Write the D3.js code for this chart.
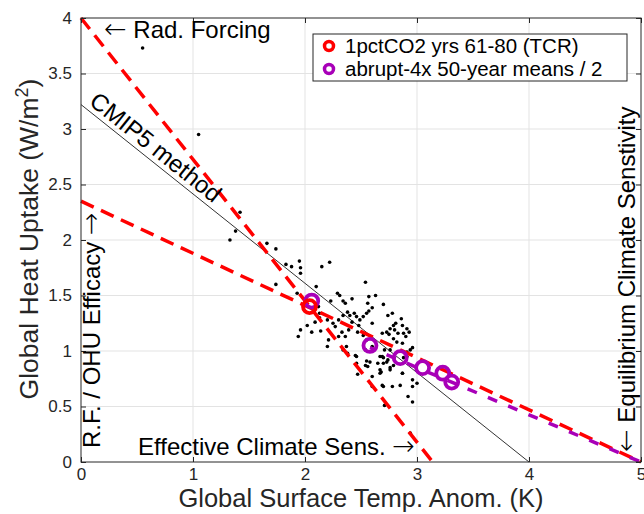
<!DOCTYPE html>
<html>
<head>
<meta charset="utf-8">
<script src="https://cdn.jsdelivr.net/npm/d3@7"></script>
<style>
  html, body { margin: 0; padding: 0; background: #fff; }
  svg { display: block; font-family: "Liberation Sans", Arial, Helvetica, sans-serif; }
  .arrow { font-family: "DejaVu Sans", sans-serif; font-weight: 200; font-size: 27px; }
</style>
</head>
<body>
<svg id="chart" width="644" height="514"></svg>
<script>
// Axis ticks
const xTicks = [0, 1, 2, 3, 4, 5];
const yTicks = [0, 0.5, 1, 1.5, 2, 2.5, 3, 3.5, 4];

// Individual model points: [surface temp anomaly (K), heat uptake (W/m2)]
const modelPoints = [
  [0.55,3.73],[1.05,2.95],
  [1.42,2.25],[1.38,2.08],[1.33,2.00],[1.66,1.97],[1.74,1.92],
  [1.83,1.78],[1.88,1.76],[1.95,1.81],[1.96,1.75],[1.96,1.70],[1.74,1.60],[1.93,1.52],
  [2.15,1.76],[2.22,1.80],[2.10,1.58],[2.54,1.62],
  [2.29,1.52],[2.31,1.50],[2.34,1.45],[2.36,1.43],[2.42,1.47],[2.23,1.45],[2.57,1.49],[2.63,1.50],[2.56,1.43],[2.70,1.42],
  [2.12,1.40],[2.13,1.34],[2.13,1.30],[2.07,1.35],[2.02,1.23],[1.96,1.19],[1.94,1.13],[2.06,1.17],[2.14,1.18],[2.09,1.26],
  [2.20,1.28],[2.25,1.25],[2.27,1.22],[2.30,1.28],[2.34,1.32],[2.38,1.35],[2.40,1.32],[2.44,1.34],[2.46,1.31],[2.49,1.28],
  [2.52,1.31],[2.55,1.34],[2.57,1.36],[2.60,1.39],[2.48,1.23],[2.42,1.26],
  [2.33,1.17],[2.30,1.13],[2.36,1.13],[2.39,1.19],[2.20,1.04],[2.45,0.96],[2.47,1.17],[2.52,1.14],[2.55,1.10],[2.60,1.04],
  [2.21,1.10],[2.37,1.04],[2.34,1.01],[2.38,0.98],[2.46,0.95],[2.47,0.79],[2.54,0.87],[2.58,0.90],[2.54,1.01],[2.60,0.77],
  [2.69,0.69],[2.71,0.51],[2.68,0.81],[2.78,0.68],[2.85,0.69],[2.96,0.68],[2.92,0.59],[2.96,0.54],[3.00,0.71],[2.87,0.80],
  [2.76,0.85],[2.70,0.94],[2.67,0.95],[2.73,0.90],[2.76,1.01],
  [2.60,1.25],[2.74,1.32],[2.78,1.34],[2.86,1.29],[2.91,1.20],[2.93,1.17],[2.87,1.23],[2.81,1.25],[2.79,1.23],[2.76,1.20],
  [2.73,1.17],[2.69,1.16],[2.75,1.15],[2.80,1.19],[2.83,1.16],[2.88,1.16],[2.90,1.13],[2.79,1.11],[2.82,1.08],[2.87,1.07],
  [2.94,1.01],[2.96,1.03],[2.91,0.99],[2.71,1.01],[2.69,0.95],[2.74,0.92],[2.70,0.89],[2.65,0.89],[2.88,0.94],[2.91,0.95],
  [2.76,0.83],[2.67,0.83],[2.87,0.80],[2.96,0.74],[2.70,0.68],
  [2.46,0.89],[2.55,0.91],[2.56,0.86],[2.60,0.68],[2.67,0.80],[2.94,0.26],[2.79,0.87]
];

// 1pctCO2 years 61-80 (TCR) multi-model mean
const tcrPoints = [[2.04, 1.40]];

// abrupt-4x 50-year means, halved
const abruptPoints = [[2.06,1.45],[2.58,1.05],[2.85,0.94],[3.05,0.85],[3.23,0.80],[3.31,0.72]];

// Reference lines: [[x0,y0],[x1,y1]]
const radForcingLine = [[0, 4.0], [3.14, 0]];
const efficacyLine   = [[0, 2.35], [5, 0]];
const abruptFitLine  = [[2.58, 1.03], [5, 0]];
const cmip5Line      = [[0, 3.22], [4, 0]];

const legendLabels = ["1pctCO2 yrs 61-80 (TCR)", "abrupt-4x 50-year means / 2"];

const RED = "#ff0000", PURPLE = "#a800b8", AXIS = "#262626";

const svg = d3.select("#chart");
const plotL = 81, plotR = 641, plotT = 18, plotB = 462;

const x = d3.scaleLinear().domain([0, 5]).range([plotL, plotR]);
const y = d3.scaleLinear().domain([0, 4]).range([plotB, plotT]);

// grid
const grid = svg.append("g");
grid.selectAll(".gx").data(xTicks.slice(1, -1)).join("line")
  .attr("x1", d => x(d)).attr("x2", d => x(d)).attr("y1", plotT).attr("y2", plotB)
  .attr("stroke", "#e3e3e3").attr("stroke-width", 1);
grid.selectAll(".gy").data(yTicks.slice(1, -1)).join("line")
  .attr("y1", d => y(d)).attr("y2", d => y(d)).attr("x1", plotL).attr("x2", plotR)
  .attr("stroke", "#e3e3e3").attr("stroke-width", 1);

const line = d3.line().x(d => x(d[0])).y(d => y(d[1]));

// CMIP5 regression line
svg.append("path").datum(cmip5Line).attr("d", line)
  .attr("fill", "none").attr("stroke", "#333").attr("stroke-width", 1);

// model dots
svg.append("g").selectAll("circle").data(modelPoints).join("circle")
  .attr("cx", d => x(d[0])).attr("cy", d => y(d[1])).attr("r", 1.8).attr("fill", "#000");

// dashed red lines
[radForcingLine, efficacyLine].forEach(l => {
  svg.append("path").datum(l).attr("d", line)
    .attr("fill", "none").attr("stroke", RED).attr("stroke-width", 3.5)
    .attr("stroke-dasharray", "14,8");
});
svg.append("path").datum(abruptFitLine).attr("d", line)
  .attr("fill", "none").attr("stroke", PURPLE).attr("stroke-width", 3.5)
  .attr("stroke-dasharray", "10,12").attr("stroke-dashoffset", 4);

// abrupt-4x and TCR markers
svg.append("g").selectAll("circle").data(abruptPoints).join("circle")
  .attr("cx", d => x(d[0])).attr("cy", d => y(d[1])).attr("r", 6.5)
  .attr("fill", "none").attr("stroke", PURPLE).attr("stroke-width", 3.8);
svg.append("g").selectAll("circle").data(tcrPoints).join("circle")
  .attr("cx", d => x(d[0])).attr("cy", d => y(d[1])).attr("r", 6.5)
  .attr("fill", "none").attr("stroke", RED).attr("stroke-width", 3.8);

// axes box and ticks
svg.append("rect").attr("x", plotL).attr("y", plotT).attr("width", plotR - plotL).attr("height", plotB - plotT)
  .attr("fill", "none").attr("stroke", AXIS).attr("stroke-width", 1);

const xAxis = d3.axisBottom(x).tickValues(xTicks).tickSize(-5).tickPadding(6).tickFormat(d3.format("d"));
svg.append("g").attr("transform", `translate(0,${plotB})`).call(xAxis);
const xTop = d3.axisTop(x).tickValues(xTicks).tickSize(-5).tickFormat("");
svg.append("g").attr("transform", `translate(0,${plotT})`).call(xTop);
const yAxis = d3.axisLeft(y).tickValues(yTicks).tickSize(-5).tickPadding(9).tickFormat(d => String(d));
svg.append("g").attr("transform", `translate(${plotL},0)`).call(yAxis);
const yRight = d3.axisRight(y).tickValues(yTicks).tickSize(-5).tickFormat("");
svg.append("g").attr("transform", `translate(${plotR},0)`).call(yRight);

svg.selectAll(".domain").remove();
svg.selectAll(".tick line").attr("stroke", AXIS);
svg.selectAll(".tick text").attr("fill", AXIS).style("font-size", "17px")
  .style("font-family", "'Liberation Sans', Arial, sans-serif");

// axis titles
svg.append("text").attr("x", 361).attr("y", 507).attr("text-anchor", "middle")
  .style("font-size", "25.5px").attr("fill", AXIS).text("Global Surface Temp. Anom. (K)");

const yl = svg.append("text").attr("transform", `translate(38,${(plotT + plotB) / 2 - 1}) rotate(-90)`)
  .attr("text-anchor", "middle").style("font-size", "26.5px").attr("fill", AXIS);
yl.append("tspan").text("Global Heat Uptake (W/m");
yl.append("tspan").attr("dy", -10).style("font-size", "18px").text("2");
yl.append("tspan").attr("dy", 10).text(")");

// annotations (arrows drawn with DejaVu glyphs)
function annot(sel, parts) {
  parts.forEach(([t, isArrow]) => {
    const ts = sel.append("tspan").text(t);
    if (isArrow) ts.attr("class", "arrow");
  });
  return sel;
}
annot(svg.append("text").attr("x", 104).attr("y", 38).style("font-size", "24px").attr("fill", "#000"),
  [["\u2190", true], [" Rad. Forcing", false]]);

annot(svg.append("text").attr("x", 138).attr("y", 455).style("font-size", "24px").attr("fill", "#000"),
  [["Effective Climate Sens. ", false], ["\u2192", true]]);

annot(svg.append("text").attr("transform", `translate(100,448) rotate(-90)`)
  .style("font-size", "24px").attr("fill", "#000"),
  [["R.F. / OHU Efficacy ", false], ["\u2192", true]]);

annot(svg.append("text").attr("transform", `translate(635,452) rotate(-90)`)
  .style("font-size", "24px").attr("fill", "#000"),
  [["\u2190", true], [" Equilibrium Climate Senstivity", false]]);

// label along the CMIP5 line
const p0 = [x(cmip5Line[0][0]), y(cmip5Line[0][1])];
const p1 = [x(cmip5Line[1][0]), y(cmip5Line[1][1])];
const slope = (p1[1] - p0[1]) / (p1[0] - p0[0]);
const ang = Math.atan(slope) * 180 / Math.PI;
svg.append("text")
  .attr("transform", `translate(${p0[0] + 4},${p0[1] + 4 * slope}) rotate(${ang})`)
  .attr("dy", -5).style("font-size", "24px").attr("fill", "#000").text("CMIP5 method");

// legend
const lg = svg.append("g");
lg.append("rect").attr("x", 313).attr("y", 34).attr("width", 314).attr("height", 47)
  .attr("fill", "#fff").attr("stroke", AXIS).attr("stroke-width", 1);
const lcol = [RED, PURPLE];
legendLabels.forEach((t, i) => {
  const cy = 46 + i * 23;
  lg.append("circle").attr("cx", 329).attr("cy", cy).attr("r", 4.5)
    .attr("fill", "none").attr("stroke", lcol[i]).attr("stroke-width", 3.5);
  lg.append("text").attr("x", 345).attr("y", cy + 6.5).style("font-size", "20.5px").attr("fill", "#000").text(t);
});
</script>
</body>
</html>
